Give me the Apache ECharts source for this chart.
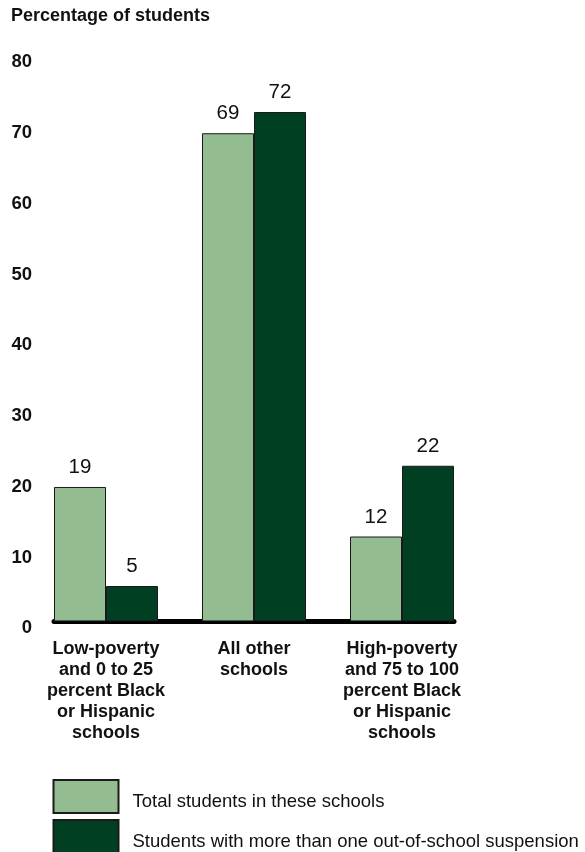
<!DOCTYPE html>
<html>
<head>
<meta charset="utf-8">
<script src="https://cdn.jsdelivr.net/npm/echarts@6/dist/echarts.min.js"></script>
<style>
  html, body { margin: 0; padding: 0; background: #ffffff; }
  #chart { width: 585px; height: 852px; }
</style>
</head>
<body>
<div id="chart"></div>
<script>
// School groups along the horizontal axis
const categories = [
  'Low-poverty\nand 0 to 25\npercent Black\nor Hispanic\nschools',
  'All other\nschools',
  'High-poverty\nand 75 to 100\npercent Black\nor Hispanic\nschools'
];
// Percentage of all students enrolled in each group of schools
const totalStudents = [19, 69, 12];
// Percentage of students with more than one out-of-school suspension
const suspendedStudents = [5, 72, 22];
const seriesNames = [
  'Total students in these schools',
  'Students with more than one out-of-school suspension'
];
const yMin = 0, yMax = 80, yStep = 10;

const FONT = '"Liberation Sans", Arial, Helvetica, sans-serif';
const LIGHT = '#93bd91';
const DARK = '#013f23';

const chart = echarts.init(document.getElementById('chart'), null, { renderer: 'canvas' });

const valueLabel = {
  show: true,
  position: 'top',
  distance: 9,
  fontFamily: FONT,
  fontSize: 20.5,
  color: '#111111'
};

const legendBase = {
  orient: 'vertical',
  left: 52.5,
  padding: 0,
  itemWidth: 65,
  itemHeight: 33,
  icon: 'rect',
  selectedMode: false,
  formatter: '{t|{name}}',
  textStyle: {
    rich: {
      t: { fontFamily: FONT, fontSize: 18.5, color: '#111111', padding: [10, 0, 0, 9] }
    }
  }
};

chart.setOption({
  animation: false,
  backgroundColor: '#ffffff',
  textStyle: { fontFamily: FONT },
  title: {
    text: 'Percentage of students',
    left: 11,
    top: 7,
    padding: 0,
    textStyle: { fontFamily: FONT, fontSize: 18, fontWeight: 'bold', color: '#111111' }
  },
  legend: [
    Object.assign({}, legendBase, { top: 779, data: [seriesNames[0]] }),
    Object.assign({}, legendBase, { top: 819, data: [seriesNames[1]] })
  ],
  grid: [
    { left: 32, right: 109, top: 55.4, bottom: 230.6, containLabel: false },
    { left: 54, right: 131, top: 55.4, bottom: 230.6, containLabel: false }
  ],
  xAxis: [
    {
      type: 'category',
      gridIndex: 0,
      data: categories,
      axisLine: { show: false },
      axisTick: { show: false },
      axisLabel: {
        margin: 17,
        interval: 0,
        fontFamily: FONT,
        fontSize: 18,
        fontWeight: 'bold',
        lineHeight: 21,
        color: '#111111',
        align: 'center'
      }
    },
    {
      // baseline drawn under the bars
      type: 'value',
      gridIndex: 1,
      min: 0,
      max: 1,
      axisLine: { show: true, lineStyle: { color: '#000000', width: 5 } },
      axisTick: { show: false },
      axisLabel: { show: false },
      splitLine: { show: false }
    }
  ],
  yAxis: [
    {
      type: 'value',
      gridIndex: 0,
      min: yMin,
      max: yMax,
      interval: yStep,
      axisLine: { show: false },
      axisTick: { show: false },
      splitLine: { show: false },
      axisLabel: {
        margin: 0,
        formatter: '{v|{value}}',
        rich: {
          v: {
            fontFamily: FONT,
            fontSize: 18.5,
            fontWeight: 'bold',
            color: '#111111',
            padding: [14, 0, 0, 0]
          }
        }
      }
    },
    {
      type: 'value',
      gridIndex: 1,
      min: yMin,
      max: yMax,
      show: false
    }
  ],
  series: [
    {
      name: seriesNames[0],
      type: 'bar',
      xAxisIndex: 0,
      yAxisIndex: 0,
      data: totalStudents,
      barWidth: 52,
      barGap: '0%',
      itemStyle: { color: LIGHT, borderColor: '#1a1a1a', borderWidth: 1 },
      label: valueLabel,
      z: 2
    },
    {
      name: seriesNames[1],
      type: 'bar',
      xAxisIndex: 0,
      yAxisIndex: 0,
      data: suspendedStudents,
      barWidth: 52,
      barGap: '0%',
      itemStyle: { color: DARK, borderColor: '#1a1a1a', borderWidth: 1 },
      label: valueLabel,
      z: 2
    }
  ]
});
</script>
</body>
</html>
